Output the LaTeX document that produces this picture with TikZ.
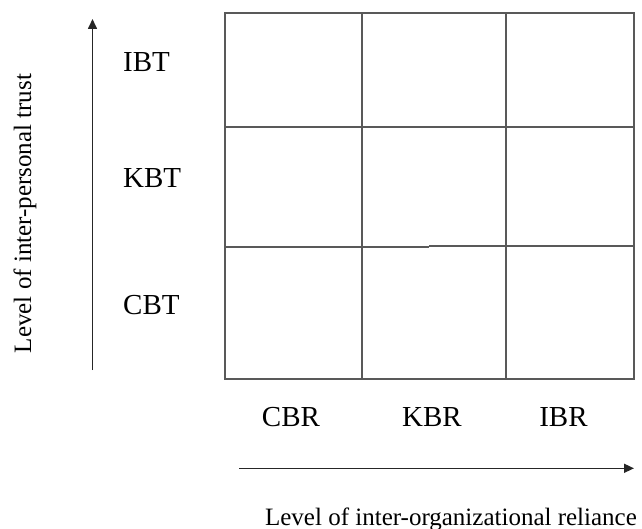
\documentclass[tikz,border=0pt]{standalone}
\usepackage{fontspec}
\setmainfont{Liberation Serif}
\usetikzlibrary{arrows.meta}

\begin{document}
\begin{tikzpicture}[
		x=1pt, y=-1pt,
		every node/.style={inner sep=0pt, text=black},
		levellabel/.style={font=\fontsize{29}{34}\selectfont},
		axistitle/.style={font=\fontsize{25}{30}\selectfont},
		cellline/.style={line width=1.8pt, black!65},
		axisarrow/.style={-{Triangle[length=10pt, width=9pt]}, line width=1.6pt, black!85}
		]
	
		\useasboundingbox (0,0) rectangle (642,529);
	
		% Grid
		\draw[cellline] (225,13.3) rectangle (634.3,379);
		\draw[cellline] (362,13.3) -- (362,379);
		\draw[cellline] (506,13.3) -- (506,379);
		\draw[cellline] (225,126.7) -- (634.3,126.7);
		\draw[cellline] (225,247.3) -- (429,247.3);
		\draw[cellline] (429,245.8) -- (634.3,245.8);
	
		% Trust levels
		\node[levellabel, anchor=base west] at (123,72) (ibtnode) {IBT};
		\node[levellabel, anchor=base west] at (123,188) (kbtnode) {KBT};
		\node[levellabel, anchor=base west] at (123,314) (cbtnode) {CBT};
	
		% Reliance levels
		\node[levellabel, anchor=base] at (291,426.7) (cbrnode) {CBR};
		\node[levellabel, anchor=base] at (432,426.7) (kbrnode) {KBR};
		\node[levellabel, anchor=base] at (563.5,426.7) (ibrnode) {IBR};
	
		% Axes
		\coordinate (trustlow) at (92.5,370);
		\coordinate (trusthigh) at (92.5,19);
		\draw[axisarrow] (trustlow) -- (trusthigh);
		\node[axistitle, rotate=90, anchor=base] at (31,213.5) (trustnode) {Level of inter-personal trust};
	
		\coordinate (reliancelow) at (239,468.3);
		\coordinate (reliancehigh) at (634,468.3);
		\draw[axisarrow] (reliancelow) -- (reliancehigh);
		\node[axistitle, anchor=base] at (451,525) (reliancenode) {Level of inter-organizational reliance};
	
	\end{tikzpicture}
\end{document}
